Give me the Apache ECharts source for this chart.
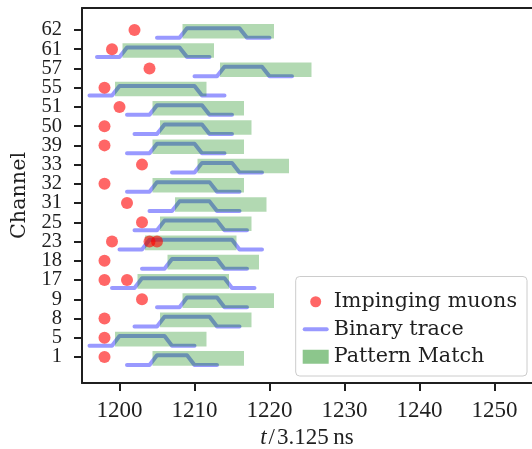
<!DOCTYPE html>
<html>
<head>
<meta charset="utf-8">
<script src="https://cdn.jsdelivr.net/npm/echarts@6/dist/echarts.min.js"></script>
<style>
  html, body { margin: 0; padding: 0; background: #ffffff; }
  #chart { width: 532px; height: 449px; }
</style>
</head>
<body>
<div id="chart"></div>
<script>
// Channels, bottom to top
const channels = ['1', '5', '8', '9', '17', '18', '23', '25', '31', '32', '33', '39', '50', '51', '55', '57', '61', '62'];

// Arrival time of each impinging muon, per channel (t / 3.125 ns)
const muonTimes = [
  [1198], [1198], [1198], [1203], [1198, 1201], [1198], [1199, 1204, 1205], [1203], [1201],
  [1198], [1203], [1198], [1198], [1200], [1198], [1204], [1199], [1202]
];

// Binary trace per channel: first sample time and the sampled bits (one per time step)
const traceStart = [1201, 1196, 1202, 1205, 1199, 1203, 1200, 1202, 1204, 1201, 1207, 1201, 1202, 1201, 1196, 1210, 1197, 1205];
const traceBits = [
  '0000111110000',
  '000011111110000',
  '000011111110000',
  '0000111110000',
  '00001111111111110000',
  '000011111110000',
  '00001111111111110000',
  '0000111111110000',
  '0000111110000',
  '0000111111110000',
  '0000111110000',
  '00001111110000',
  '00001111110000',
  '000011111110000',
  '0000111111111110000',
  '00001111110000',
  '0000111111110000',
  '0000111111110000'
];

// Pattern match window per channel
const matchStart = [1204.4, 1199.4, 1205.4, 1208.4, 1202.4, 1206.4, 1203.4, 1205.4, 1207.4, 1204.4, 1210.4, 1204.4, 1205.4, 1204.4, 1199.4, 1213.4, 1200.4, 1208.4];
const matchEnd   = [1216.6, 1211.6, 1217.6, 1220.6, 1214.6, 1218.6, 1215.6, 1217.6, 1219.6, 1216.6, 1222.6, 1216.6, 1217.6, 1216.6, 1211.6, 1225.6, 1212.6, 1220.6];

// Axis ticks
const xTicks = [1200, 1210, 1220, 1230, 1240, 1250];
const yTicks = channels.map((_, i) => i);
// Rows are labelled from two stacked axes (even / odd rows) so that the
// tightly packed labels are never dropped by the overlap check
const yEvenTicks = yTicks.filter(i => i % 2 === 0);
const yOddTicks = yTicks.filter(i => i % 2 === 1);

const INK = '#1f1f1f';
const NUM_FONT = 'Liberation Serif';
const WORD_FONT = 'DejaVu Serif';

const Y_MIN = -1.35, Y_MAX = 18.14;

// Vertical placement of the trace levels and match band relative to a channel row
const LOW = -0.41, STEP = 0.5;
const BAND_TOP = 0.31, BAND_BOTTOM = -0.45;

const muonData = [];
muonTimes.forEach((times, i) => times.forEach(t => muonData.push([t, i])));

const traceSeries = traceBits.map((bits, i) => ({
  name: 'Binary trace',
  type: 'line',
  z: 2,
  symbol: 'none',
  silent: true,
  animation: false,
  color: 'rgba(0,0,255,0.4)',
  lineStyle: { width: 4, color: 'rgba(0,0,255,0.4)', cap: 'round', join: 'round' },
  data: bits.split('').map((b, k) => [traceStart[i] + k, i + LOW + STEP * Number(b)])
}));

const matchData = channels.map((_, i) => [matchStart[i], matchEnd[i], i]);

function rowLabels(values) {
  return {
    customValues: values,
    fontFamily: NUM_FONT, fontSize: 20.5, color: INK, margin: 20,
    showMinLabel: true, showMaxLabel: true, hideOverlap: false,
    formatter: v => channels[Math.round(v)]
  };
}
function rowTicks(values) {
  return { show: true, customValues: values, length: 8, lineStyle: { color: INK, width: 2 } };
}

const chart = echarts.init(document.getElementById('chart'), null, { renderer: 'canvas' });

chart.setOption({
  animation: false,
  backgroundColor: '#ffffff',
  grid: { left: 82, right: 0, top: 8, bottom: 66, containLabel: false, outerBoundsMode: 'none' },
  xAxis: [
    {
      type: 'value',
      min: 1195,
      max: 1255,
      name: '{i|t}\u200A/\u200A3.125\u2009ns',
      nameLocation: 'middle',
      nameGap: 38,
      nameTextStyle: {
        fontFamily: NUM_FONT, fontSize: 23, color: INK,
        rich: { i: { fontFamily: NUM_FONT, fontStyle: 'italic', fontSize: 23, color: INK } }
      },
      axisLine: { show: true, onZero: false, lineStyle: { color: INK, width: 2 } },
      axisTick: { show: true, customValues: xTicks, length: 8, lineStyle: { color: INK, width: 2 } },
      axisLabel: {
        customValues: xTicks, fontFamily: NUM_FONT, fontSize: 23, color: INK, margin: 16,
        showMinLabel: true, showMaxLabel: true, hideOverlap: false,
        formatter: v => String(v)
      },
      splitLine: { show: false }
    },
    {
      type: 'value',
      position: 'top',
      min: 1195,
      max: 1255,
      axisLine: { show: true, onZero: false, lineStyle: { color: INK, width: 2 } },
      axisTick: { show: false },
      axisLabel: { show: false },
      splitLine: { show: false }
    }
  ],
  yAxis: [
    {
      type: 'value',
      min: Y_MIN,
      max: Y_MAX,
      name: 'Channel',
      nameLocation: 'middle',
      nameGap: 47,
      nameTextStyle: { fontFamily: WORD_FONT, fontSize: 20.7, color: INK },
      axisLine: { show: true, onZero: false, lineStyle: { color: INK, width: 2 } },
      axisTick: rowTicks(yEvenTicks),
      axisLabel: rowLabels(yEvenTicks),
      splitLine: { show: false }
    },
    {
      type: 'value',
      position: 'left',
      offset: 0,
      min: Y_MIN,
      max: Y_MAX,
      axisLine: { show: false },
      axisTick: rowTicks(yOddTicks),
      axisLabel: rowLabels(yOddTicks),
      splitLine: { show: false }
    },
    {
      type: 'value',
      position: 'right',
      min: Y_MIN,
      max: Y_MAX,
      axisLine: { show: true, onZero: false, lineStyle: { color: '#c4c4c4', width: 1 } },
      axisTick: { show: false },
      axisLabel: { show: false },
      splitLine: { show: false }
    }
  ],
  legend: {
    orient: 'vertical',
    right: 5,
    bottom: 73,
    itemWidth: 26,
    itemHeight: 14,
    itemGap: 5,
    padding: [14, 10, 8, 7],
    backgroundColor: 'rgba(255,255,255,0.8)',
    borderColor: '#cccccc',
    borderWidth: 1,
    borderRadius: 4,
    selectedMode: false,
    textStyle: { fontFamily: WORD_FONT, fontSize: 20.7, color: INK, lineHeight: 22.5 },
    data: [
      {
        name: 'Impinging muons',
        icon: 'path://M0,0 M26,14 M13,1.5 A5.5,5.5 0 1 1 13,12.5 A5.5,5.5 0 1 1 13,1.5 Z',
        itemStyle: { color: 'rgba(255,0,0,0.75)', borderWidth: 0 }
      },
      {
        name: 'Binary trace',
        icon: 'path://M0,0 M26,14 M2,5 L24,5 A2,2 0 0 1 24,9 L2,9 A2,2 0 0 1 2,5 Z',
        itemStyle: { color: 'rgba(0,0,255,0.4)', borderWidth: 0 }
      },
      {
        name: 'Pattern Match',
        icon: 'rect',
        itemStyle: { color: 'rgba(0,128,0,0.45)', borderWidth: 0 }
      }
    ]
  },
  series: [
    {
      name: 'Impinging muons',
      type: 'scatter',
      z: 4,
      symbol: 'circle',
      symbolSize: 12,
      itemStyle: { color: 'rgba(255,0,0,0.75)' },
      data: muonData
    },
    ...traceSeries,
    {
      name: 'Pattern Match',
      type: 'custom',
      z: 3,
      silent: true,
      itemStyle: { color: 'rgba(0,128,0,0.3)' },
      encode: { x: [0, 1], y: 2 },
      renderItem: function (params, api) {
        const row = api.value(2);
        const p0 = api.coord([api.value(0), row + BAND_TOP]);
        const p1 = api.coord([api.value(1), row + BAND_BOTTOM]);
        return {
          type: 'rect',
          shape: { x: p0[0], y: p0[1], width: p1[0] - p0[0], height: p1[1] - p0[1] },
          style: { fill: 'rgba(0,128,0,0.3)' }
        };
      },
      data: matchData
    }
  ]
});
</script>
</body>
</html>
